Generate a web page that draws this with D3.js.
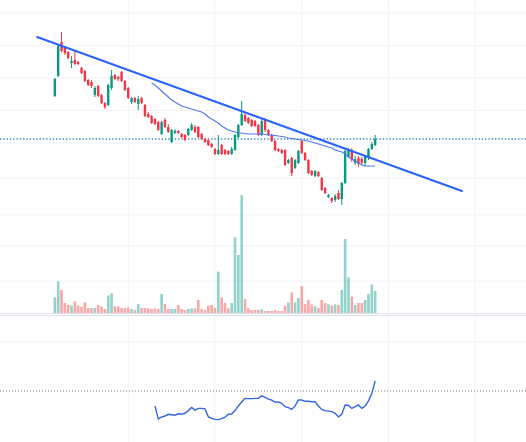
<!DOCTYPE html>
<html>
<head>
<meta charset="utf-8">
<script src="https://cdn.jsdelivr.net/npm/d3@7"></script>
<style>
  body { margin: 0; background: #ffffff; }
  svg { display: block; }
</style>
</head>
<body>
<svg id="chart" width="526" height="442"></svg>
<script>
//DATA -----------------------------------------------------------------------------------
const opens = [
  20.4, 22.4, 25.8, 25.2, 24.8, 23.7, 24.0, 23.8, 23.2, 22.9,
  22.0, 21.8, 20.5, 21.4, 20.5, 19.7, 19.5, 21.2, 22.5, 22.3,
  22.8, 21.9, 21.2, 19.8, 20.2, 19.6, 20.2, 19.5, 18.6, 18.4,
  18.1, 17.8, 16.6, 18.0, 17.3, 15.8, 16.7, 16.9, 16.6, 16.5,
  16.5, 17.0, 17.3, 17.3, 16.6, 16.1, 16.0, 15.6, 15.1, 14.6,
  15.5, 15.0, 14.9, 14.6, 15.0, 16.3, 17.5, 18.5, 18.2, 18.0,
  17.9, 17.5, 16.5, 18.0, 17.0, 16.5, 15.9, 15.1, 15.0, 15.0,
  13.7, 14.2, 13.2, 13.7, 15.9, 14.7, 14.0, 12.9, 12.4, 12.8,
  12.2, 11.2, 10.3, 10.2, 10.0, 10.7, 10.1, 11.7, 14.3, 15.0,
  13.7, 14.2, 14.1, 13.7, 14.2, 15.1, 15.5
];
const highs = [
  22.2, 25.6, 26.8, 25.4, 24.9, 24.4, 24.9, 23.9, 23.3, 23.0,
  22.1, 22.0, 21.4, 21.5, 20.6, 19.8, 21.6, 23.0, 22.6, 22.4,
  22.9, 22.0, 21.3, 20.3, 20.3, 20.4, 20.3, 19.6, 18.8, 18.5,
  18.2, 17.9, 17.9, 18.2, 17.6, 17.1, 17.1, 17.0, 16.7, 16.6,
  17.2, 17.7, 17.5, 17.4, 16.7, 16.2, 16.1, 15.7, 15.2, 16.5,
  15.6, 15.1, 15.0, 15.3, 16.6, 17.6, 19.9, 18.7, 18.3, 18.1,
  18.0, 17.6, 18.1, 18.2, 17.1, 16.6, 16.0, 15.2, 15.1, 15.1,
  14.1, 14.3, 14.1, 15.0, 16.0, 14.8, 14.1, 13.0, 13.0, 12.9,
  12.3, 11.3, 10.6, 10.3, 10.6, 11.0, 11.8, 15.1, 15.2, 15.2,
  14.4, 14.4, 14.3, 14.5, 15.2, 15.8, 16.5
];
const lows = [
  20.3, 22.3, 24.8, 24.5, 24.1, 23.2, 23.5, 23.5, 22.6, 21.8,
  21.4, 21.2, 20.3, 20.3, 19.6, 19.1, 19.4, 21.0, 22.0, 21.9,
  21.8, 20.9, 20.1, 19.6, 19.7, 19.0, 19.6, 18.3, 18.2, 17.6,
  17.5, 16.9, 16.5, 17.2, 16.7, 15.7, 16.6, 16.6, 16.2, 15.9,
  16.4, 16.9, 16.7, 16.2, 16.0, 15.7, 15.4, 15.2, 14.5, 14.5,
  14.5, 14.5, 14.5, 14.5, 14.9, 16.2, 17.4, 17.8, 17.6, 17.3,
  17.3, 16.4, 16.4, 16.8, 16.4, 15.8, 14.9, 14.8, 14.6, 13.4,
  13.6, 12.4, 13.1, 13.6, 14.6, 13.9, 12.6, 12.4, 12.3, 12.3,
  10.9, 10.6, 10.2, 9.7, 9.8, 10.0, 9.5, 11.6, 14.2, 13.8,
  13.5, 13.3, 13.5, 13.4, 14.0, 15.0, 15.4
];
const closes = [
  22.1, 25.4, 24.9, 24.7, 24.2, 23.9, 23.6, 23.6, 22.7, 21.9,
  21.5, 21.4, 21.2, 20.4, 19.7, 19.3, 21.5, 22.4, 22.1, 22.1,
  21.9, 21.0, 20.2, 20.2, 19.8, 20.1, 19.7, 18.4, 18.3, 17.7,
  17.6, 17.0, 17.8, 17.3, 16.8, 17.0, 16.9, 16.7, 16.3, 16.0,
  17.1, 17.5, 16.8, 16.3, 16.1, 15.8, 15.5, 15.3, 14.6, 15.0,
  14.6, 14.6, 14.6, 15.1, 16.5, 17.5, 18.6, 17.9, 17.7, 17.4,
  17.4, 16.5, 17.9, 17.0, 16.5, 15.9, 15.0, 14.9, 14.7, 13.5,
  14.0, 12.7, 14.0, 14.9, 14.7, 14.0, 12.7, 12.5, 12.9, 12.4,
  11.0, 10.7, 10.5, 9.9, 10.4, 10.1, 11.7, 14.9, 15.1, 14.0,
  14.1, 13.6, 13.7, 14.4, 15.1, 15.6, 16.1
];
// volume in millions
const volumes = [
  0.78, 1.58, 1.15, 0.50, 0.40, 0.37, 0.58, 0.37, 0.32, 0.53,
  0.25, 0.25, 0.25, 0.40, 0.32, 0.20, 0.87, 0.98, 0.33, 0.33,
  0.25, 0.25, 0.28, 0.20, 0.15, 0.45, 0.25, 0.25, 0.23, 0.20,
  0.23, 0.20, 0.95, 0.45, 0.20, 0.20, 0.20, 0.40, 0.20, 0.15,
  0.20, 0.23, 0.23, 0.65, 0.20, 0.15, 0.37, 0.40, 0.25, 2.07,
  0.78, 0.50, 0.23, 0.50, 3.78, 2.90, 5.90, 0.70, 0.23, 0.15,
  0.15, 0.15, 0.18, 0.10, 0.10, 0.10, 0.15, 0.10, 0.10, 0.37,
  0.53, 1.03, 0.53, 0.75, 1.35, 0.45, 0.65, 0.43, 0.33, 0.25,
  0.65, 0.50, 0.43, 0.37, 0.43, 0.40, 1.15, 3.70, 1.78, 0.82,
  0.40, 0.50, 0.50, 0.65, 0.95, 1.42, 1.10
];

// moving average, starts at bar 29
const maStart = 29;
const maValues = [
  21.7, 21.5, 21.2, 20.9, 20.6, 20.3, 20.0, 19.8, 19.6, 19.4,
  19.3, 19.2, 19.1, 19.0, 18.9, 18.8, 18.6, 18.3, 18.1, 17.9,
  17.7, 17.4, 17.2, 17.0, 16.9, 16.8, 16.7, 16.7, 16.65, 16.6,
  16.6, 16.6, 16.6, 16.6, 16.55, 16.5, 16.5, 16.45, 16.4, 16.35,
  16.3, 16.2, 16.15, 16.1, 16.05, 16.0, 15.95, 15.9, 15.8, 15.7,
  15.6, 15.5, 15.4, 15.3, 15.2, 15.0, 14.9, 14.8, 14.6, 14.3,
  14.1, 13.9, 13.7, 13.5, 13.4, 13.4, 13.4, 13.4
];

// RSI, starts at bar 30
const rsiStart = 30;
const rsiValues = [
  43.9, 38.6, 39.4, 39.8, 40.5, 40.3, 40.1, 40.7, 40.5, 40.9,
  42.0, 43.3, 42.2, 42.9, 42.9, 42.7, 39.5, 38.8, 38.4, 38.3,
  38.7, 39.3, 40.5, 40.6, 42.0, 43.9, 45.5, 47.0, 46.9, 46.9,
  47.0, 47.0, 48.0, 47.4, 46.7, 46.3, 45.5, 45.5, 45.0, 43.6,
  43.2, 42.5, 43.9, 46.3, 46.3, 45.8, 45.8, 45.6, 45.6, 43.9,
  42.5, 42.0, 41.8, 41.6, 40.9, 39.5, 40.5, 44.3, 44.2, 42.9,
  43.6, 44.3, 42.9, 43.9, 46.0, 49.0, 54.1
];

// trend line drawn by hand: [bar, price]
const trendStart = [-5.3, 26.3];
const trendEnd = [122, 10.9];

// grid ticks
const timeTicks = [22, 48, 74, 100, 126];
const priceTicks = [28.7, 25.45, 22.2, 18.95, 15.7];
const volumeTicks = [1.6, 3.35, 4.9, 6.75];
const rsiTicks = [70];
const rsiMid = 50;

//SET UP ---------------------------------------------------------------------------------
const svg = d3.select("#chart");
const width = +svg.attr("width");
const height = +svg.attr("height");

const mainBottom = 313;
const lowerTop = 316;

const upColor = "#089981";
const downColor = "#f23645";
const volUp = "rgba(38,166,154,0.5)";
const volDown = "rgba(239,83,80,0.5)";
const gridColor = "#f0f3fa";

const bars = closes.map((c, i) => ({
    i: i, open: opens[i], high: highs[i], low: lows[i], close: c, volume: volumes[i]
}));

//SCALES ---------------------------------------------------------------------------------
const xScale = d3.scaleLinear().domain([0, 96]).range([54.85, 375.15]);
const priceScale = d3.scaleLinear().domain([9, 27]).range([210, 30]);
const volumeScale = d3.scaleLinear().domain([0, 5.9]).range([mainBottom, 195]);
const rsiScale = d3.scaleLinear().domain([30, 70]).range([440, 342]);

const barStep = xScale(1) - xScale(0);
const bodyW = 2.4;
const volW = 2.6;

//GRID -----------------------------------------------------------------------------------
const grid = svg.append("g").attr("class", "grid");

grid.selectAll(".vgrid")
    .data(timeTicks)
    .enter()
    .append("line")
    .attr("x1", d => xScale(d))
    .attr("x2", d => xScale(d))
    .attr("y1", 0)
    .attr("y2", height)
    .attr("stroke", gridColor)
    .attr("stroke-width", 1);

grid.selectAll(".pgrid")
    .data(priceTicks)
    .enter()
    .append("line")
    .attr("x1", 0).attr("x2", width)
    .attr("y1", d => priceScale(d))
    .attr("y2", d => priceScale(d))
    .attr("stroke", gridColor)
    .attr("stroke-width", 1);

grid.selectAll(".vlgrid")
    .data(volumeTicks)
    .enter()
    .append("line")
    .attr("x1", 0).attr("x2", width)
    .attr("y1", d => volumeScale(d))
    .attr("y2", d => volumeScale(d))
    .attr("stroke", gridColor)
    .attr("stroke-width", 1);

grid.selectAll(".rgrid")
    .data(rsiTicks)
    .enter()
    .append("line")
    .attr("x1", 0).attr("x2", width)
    .attr("y1", d => rsiScale(d))
    .attr("y2", d => rsiScale(d))
    .attr("stroke", gridColor)
    .attr("stroke-width", 1);

// pane separator
svg.append("rect")
    .attr("x", 0).attr("y", mainBottom)
    .attr("width", width).attr("height", lowerTop - mainBottom)
    .attr("fill", "#ffffff");
[mainBottom + 0.5, lowerTop - 0.5].forEach(y => {
    svg.append("line")
        .attr("x1", 0).attr("x2", width)
        .attr("y1", y).attr("y2", y)
        .attr("stroke", "#e0e3eb")
        .attr("stroke-width", 1);
});

//MAIN PANE ------------------------------------------------------------------------------
svg.append("clipPath").attr("id", "mainClip")
    .append("rect").attr("x", 0).attr("y", 0).attr("width", width).attr("height", mainBottom);

const main = svg.append("g").attr("clip-path", "url(#mainClip)");

// volume histogram
main.selectAll(".vol")
    .data(bars)
    .enter()
    .append("rect")
    .attr("class", "vol")
    .attr("x", d => xScale(d.i) - volW / 2)
    .attr("y", d => volumeScale(d.volume))
    .attr("width", volW)
    .attr("height", d => mainBottom - volumeScale(d.volume))
    .attr("fill", d => d.close >= d.open ? volUp : volDown);

// last price line
main.append("line")
    .attr("x1", 0).attr("x2", width)
    .attr("y1", priceScale(closes[closes.length - 1]))
    .attr("y2", priceScale(closes[closes.length - 1]))
    .attr("stroke", "#2a8cb0")
    .attr("stroke-width", 1.3)
    .attr("stroke-dasharray", "1.3,2");

// candles
const candles = main.selectAll(".candle")
    .data(bars)
    .enter()
    .append("g")
    .attr("class", "candle");

candles.append("line")
    .attr("x1", d => xScale(d.i))
    .attr("x2", d => xScale(d.i))
    .attr("y1", d => priceScale(d.high))
    .attr("y2", d => priceScale(d.low))
    .attr("stroke", d => d.close >= d.open ? upColor : downColor)
    .attr("stroke-width", 1);

candles.append("rect")
    .attr("x", d => xScale(d.i) - bodyW / 2)
    .attr("y", d => priceScale(Math.max(d.open, d.close)))
    .attr("width", bodyW)
    .attr("height", d => Math.max(1, Math.abs(priceScale(d.open) - priceScale(d.close))))
    .attr("fill", d => d.close >= d.open ? upColor : downColor);

// moving average
const maLine = d3.line()
    .x((d, k) => xScale(maStart + k))
    .y(d => priceScale(d))
    .curve(d3.curveLinear);

main.append("path")
    .datum(maValues)
    .attr("fill", "none")
    .attr("stroke", "#4f78f2")
    .attr("stroke-width", 1.1)
    .attr("d", maLine);

// trend line
main.append("line")
    .attr("x1", xScale(trendStart[0]))
    .attr("y1", priceScale(trendStart[1]))
    .attr("x2", xScale(trendEnd[0]))
    .attr("y2", priceScale(trendEnd[1]))
    .attr("stroke", "#2962ff")
    .attr("stroke-width", 2)
    .attr("stroke-linecap", "round");

//LOWER PANE (RSI) -----------------------------------------------------------------------
svg.append("line")
    .attr("x1", 0).attr("x2", width)
    .attr("y1", rsiScale(rsiMid))
    .attr("y2", rsiScale(rsiMid))
    .attr("stroke", "#787b86")
    .attr("stroke-width", 1)
    .attr("stroke-dasharray", "1,2");

const rsiLine = d3.line()
    .x((d, k) => xScale(rsiStart + k))
    .y(d => rsiScale(d));

svg.append("path")
    .datum(rsiValues)
    .attr("fill", "none")
    .attr("stroke", "#3566e0")
    .attr("stroke-width", 1.4)
    .attr("d", rsiLine);
</script>
</body>
</html>
